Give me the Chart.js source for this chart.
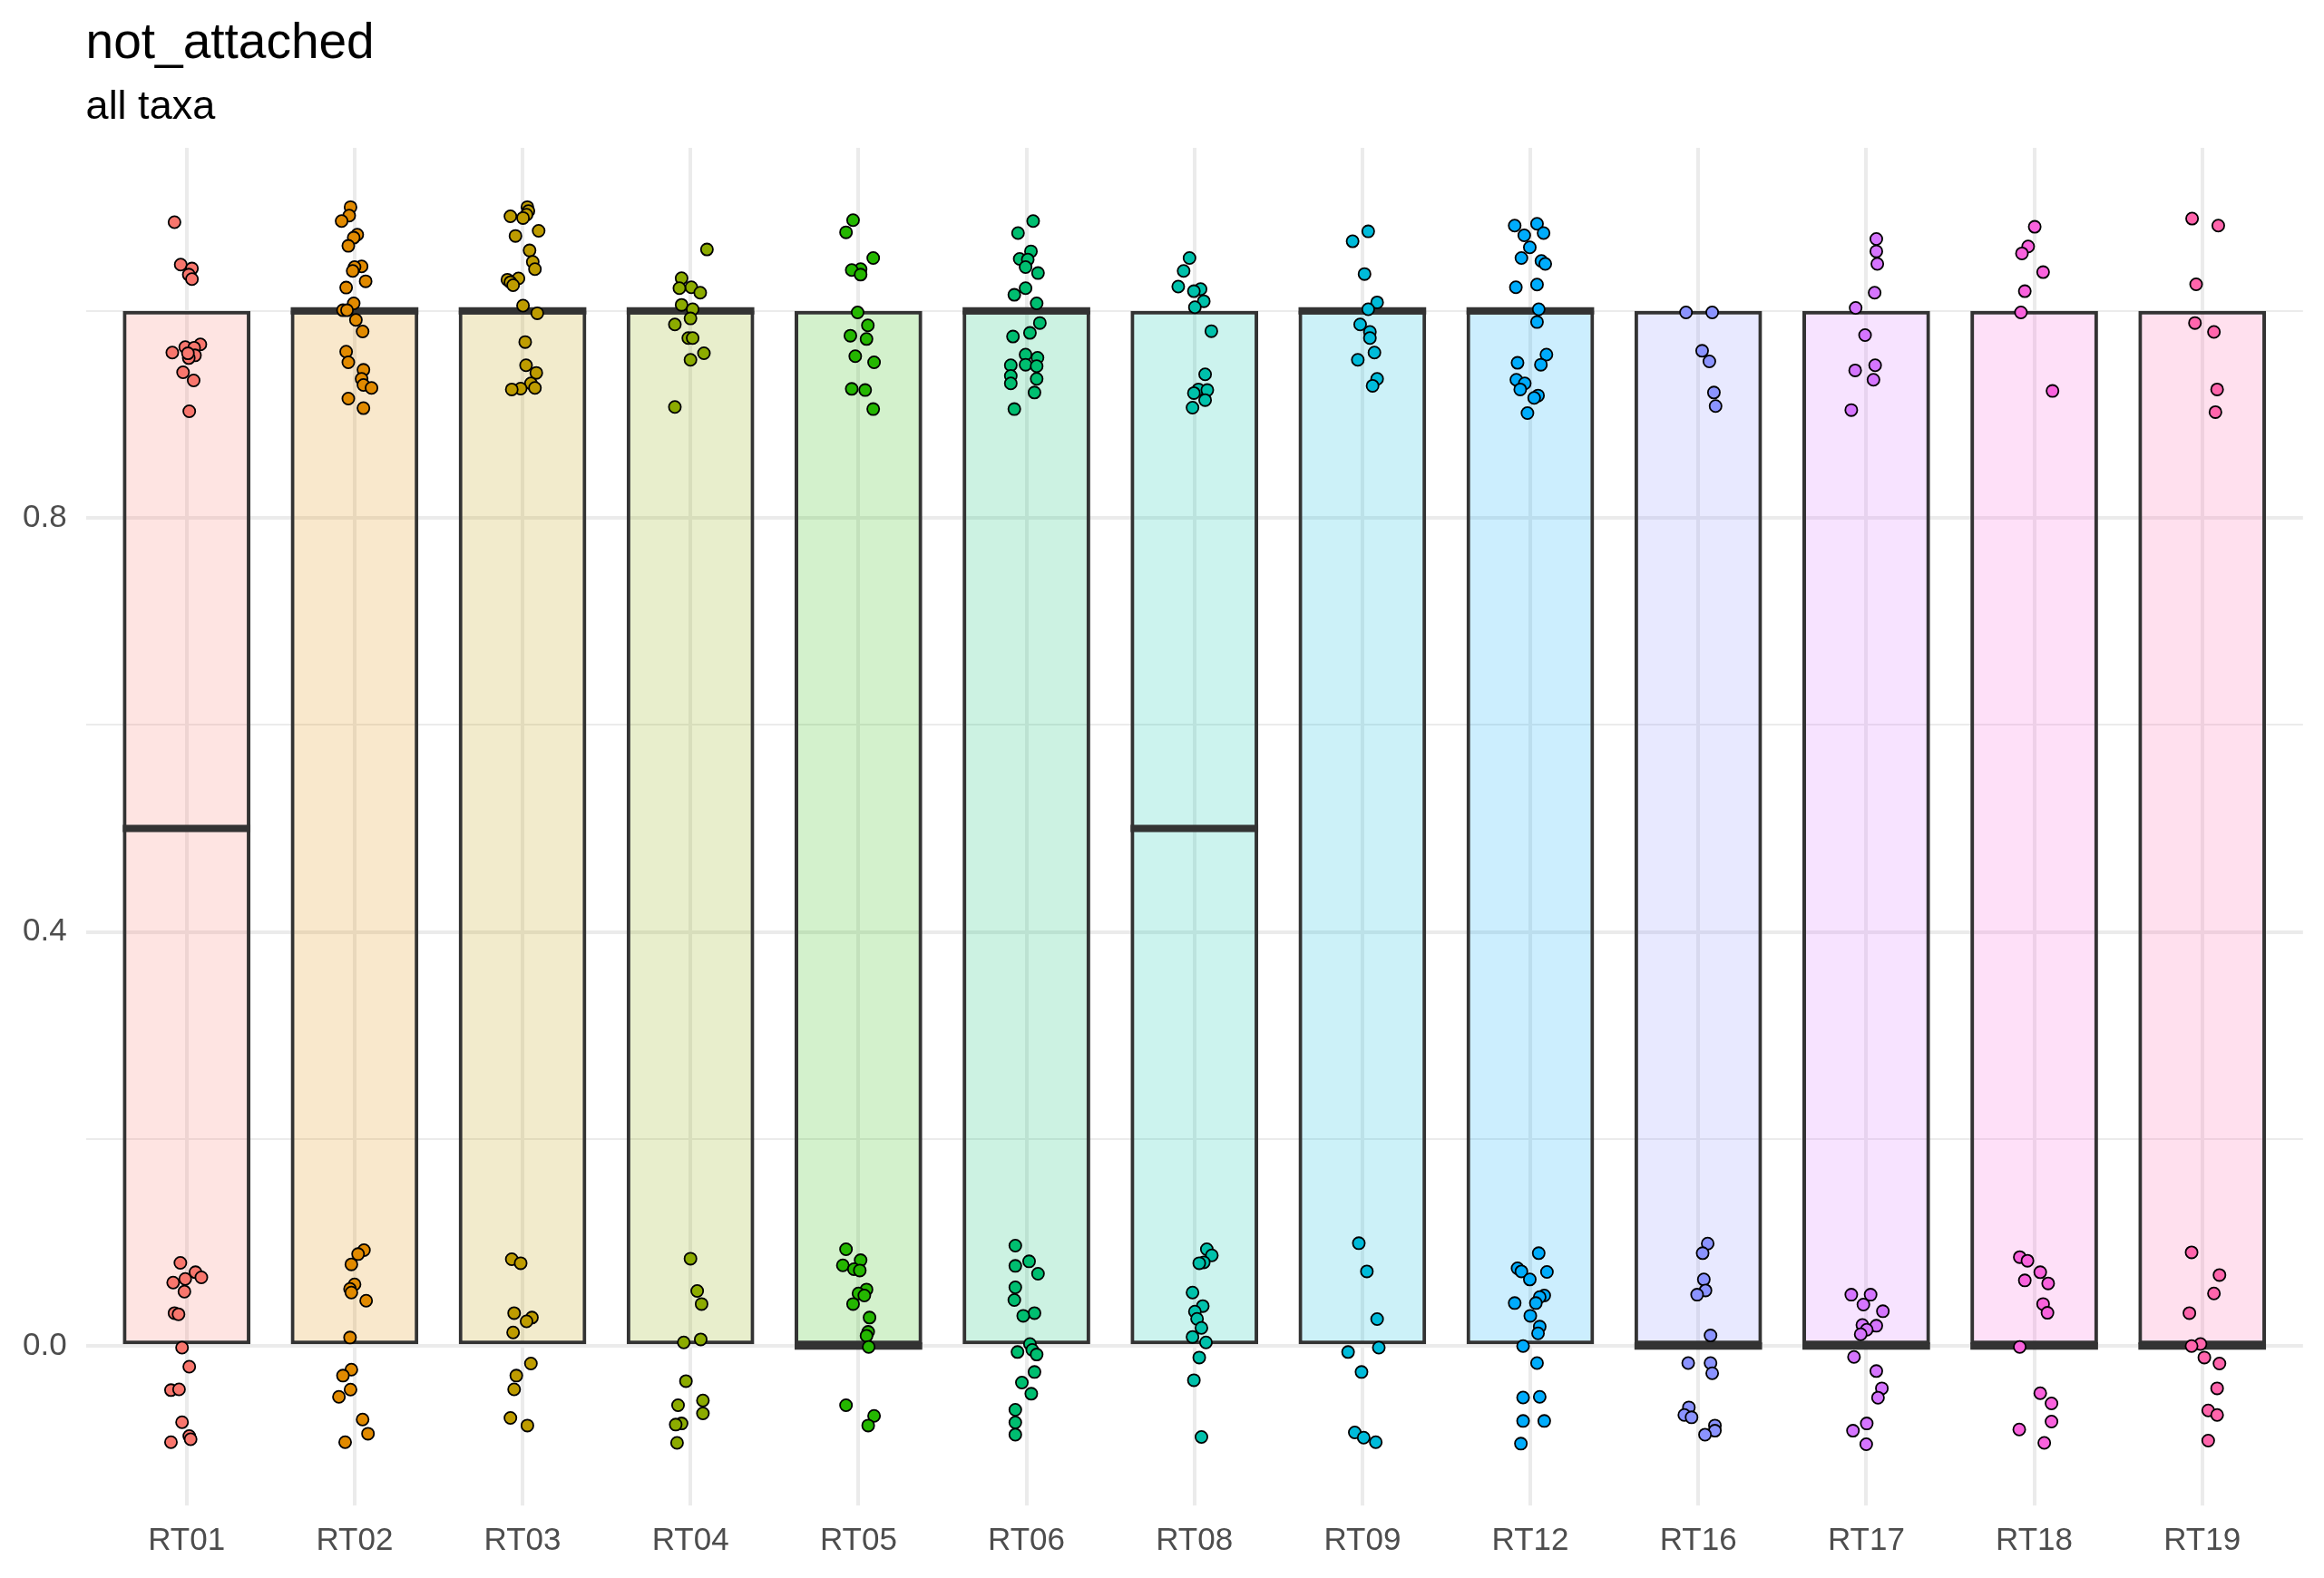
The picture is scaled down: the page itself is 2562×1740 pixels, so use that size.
<!DOCTYPE html>
<html><head><meta charset="utf-8">
<script src="https://cdn.jsdelivr.net/npm/chart.js@4.4.1/dist/chart.umd.min.js"></script>
<style>html,body{margin:0;padding:0;background:#fff;} canvas{display:block;}</style>
</head><body>
<canvas id="c" width="2562" height="1740"></canvas>
<script>
const titleText = 'not_attached';
const subtitleText = 'all taxa';
const categories = ['RT01','RT02','RT03','RT04','RT05','RT06','RT08','RT09','RT12','RT16','RT17','RT18','RT19'];
const boxLower = [0,0,0,0,0,0,0,0,0,0,0,0,0];
const boxUpper = [1,1,1,1,1,1,1,1,1,1,1,1,1];
const medians  = [0.5,1,1,1,0,1,0.5,1,1,0,0,0,0];
const yTickValues = [0,0.2,0.4,0.6,0.8,1.0];
const yTickLabels = ['0.0','','0.4','','0.8',''];
const colors = ['#F8766D','#E18A00','#BE9C00','#8CAB00','#24B700','#00BE70','#00C1AB','#00BBDA','#00ACFC','#8B93FF','#D575FE','#F962DD','#FF65AC'];

// jittered observations: [x offset from category, value]
const pointsRT01 = [[-0.072,1.0856],[-0.035,1.0447],[0.032,1.0409],[0.013,1.035],[0.032,1.0307],[0.082,0.9676],[-0.008,0.965],[0.045,0.9644],[-0.085,0.9597],[0.05,0.957],[0.013,0.9544],[0.008,0.959],[-0.021,0.9407],[0.042,0.9328],[0.016,0.903],
  [-0.037,0.0803],[0.053,0.0713],[0.088,0.0663],[-0.008,0.0648],[-0.08,0.0613],[-0.013,0.0526],[-0.072,0.0318],[-0.048,0.0307],[-0.027,-0.0015],[0.016,-0.0199],[-0.093,-0.0426],[-0.045,-0.0418],[-0.027,-0.0736],[-0.093,-0.0929],[0.016,-0.087],[0.024,-0.09]];
const pointsRT02 = [[-0.024,1.1002],[-0.032,1.092],[-0.077,1.0867],[0.016,1.0736],[-0.005,1.0707],[-0.037,1.0628],[0.042,1.0429],[0,1.0423],[-0.011,1.0386],[0.066,1.0286],[-0.05,1.0225],[-0.005,1.0073],[-0.069,1.0006],[-0.045,1.0006],[0.008,0.9912],[0.048,0.9801],[-0.05,0.9606],[-0.037,0.9503],[0.053,0.943],[0.042,0.9343],[0.053,0.9284],[0.101,0.9255],[-0.037,0.9153],[0.053,0.906],
  [0.056,0.0926],[0.021,0.0888],[-0.019,0.0789],[0,0.0596],[-0.027,0.0552],[-0.019,0.0517],[0.069,0.0438],[-0.027,0.0082],[-0.019,-0.0228],[-0.069,-0.0286],[-0.024,-0.0421],[-0.093,-0.0491],[0.048,-0.071],[0.08,-0.0847],[-0.056,-0.0929]];
const pointsRT03 = [[0.029,1.1002],[0.035,1.0964],[0.024,1.0929],[-0.072,1.0914],[0.003,1.0897],[0.096,1.0774],[-0.042,1.0724],[0.042,1.0584],[0.061,1.0473],[0.074,1.0403],[-0.024,1.0313],[-0.09,1.0301],[-0.072,1.0277],[-0.056,1.0248],[0.003,1.005],[0.088,0.9977],[0.016,0.9699],[0.021,0.9474],[0.082,0.9401],[0.05,0.9299],[0.074,0.9255],[-0.011,0.9249],[-0.064,0.9241],
  [-0.064,0.0838],[-0.011,0.08],[-0.05,0.0318],[0.056,0.0275],[0.024,0.0239],[-0.056,0.0131],[0.05,-0.0169],[-0.037,-0.0286],[-0.05,-0.0418],[-0.072,-0.0695],[0.029,-0.0768]];
const pointsRT04 = [[0.098,1.0593],[-0.053,1.0315],[0.005,1.0228],[-0.066,1.0219],[0.058,1.0175],[-0.053,1.0058],[0.013,1.0015],[0,0.9927],[-0.093,0.9869],[-0.013,0.9737],[0.013,0.9737],[0.08,0.9591],[0,0.9527],[-0.093,0.9071],
  [0,0.0844],[0.04,0.0532],[0.066,0.0406],[0.061,0.0064],[-0.04,0.0035],[-0.027,-0.0339],[0.074,-0.0526],[-0.074,-0.0572],[0.074,-0.0651],[-0.053,-0.0748],[-0.088,-0.0759],[-0.08,-0.0935]];
const pointsRT05 = [[-0.032,1.0876],[-0.074,1.0759],[0.088,1.0511],[0.013,1.0403],[-0.04,1.0394],[0.013,1.035],[-0.005,0.9985],[0.056,0.986],[-0.048,0.976],[0.048,0.9728],[-0.019,0.9562],[0.093,0.9503],[-0.04,0.9246],[0.04,0.9235],[0.088,0.9051],
  [-0.074,0.0935],[0.013,0.0829],[-0.093,0.078],[-0.027,0.0742],[0.008,0.073],[0.048,0.0546],[0,0.0508],[0.035,0.0488],[-0.032,0.0406],[0.066,0.0275],[0.058,0.0137],[0.048,0.0099],[0.061,-0.0009],[-0.074,-0.0572],[0.093,-0.0675],[0.058,-0.0768]];
const pointsRT06 = [[0.04,1.0867],[-0.05,1.0751],[0.027,1.0575],[-0.04,1.0502],[0.008,1.0496],[-0.005,1.0423],[0.069,1.0365],[-0.005,1.0219],[-0.072,1.0155],[0.061,1.0073],[0.08,0.9883],[0.021,0.9787],[-0.08,0.9752],[-0.005,0.9577],[0.066,0.9547],[-0.005,0.948],[-0.093,0.9474],[0.061,0.9466],[-0.093,0.9372],[0.061,0.9343],[-0.093,0.9299],[0.048,0.9211],[-0.072,0.9051],
  [-0.066,0.097],[0.016,0.0818],[-0.066,0.0774],[0.069,0.0698],[-0.066,0.0567],[-0.072,0.0444],[0.048,0.0318],[-0.019,0.0292],[0.021,0.002],[0.035,-0.0038],[-0.053,-0.0058],[0.061,-0.0082],[0.048,-0.0251],[-0.027,-0.0353],[0.029,-0.0461],[-0.066,-0.0616],[-0.066,-0.0739],[-0.066,-0.0856]];
const pointsRT08 = [[-0.029,1.0511],[-0.064,1.0386],[-0.096,1.0234],[0.037,1.021],[-0.003,1.019],[0.056,1.0093],[0.003,1.0035],[0.101,0.9804],[0.064,0.9387],[0.024,0.9241],[0.077,0.9235],[-0.003,0.9206],[0.064,0.9138],[-0.011,0.9065],
  [0.074,0.0935],[0.104,0.0876],[0.056,0.0809],[0.029,0.08],[-0.011,0.0517],[0.05,0.0386],[0.003,0.0333],[0.016,0.0263],[0.042,0.0175],[-0.011,0.0088],[0.069,0.0035],[0.029,-0.0111],[-0.003,-0.033],[0.042,-0.0879]];
const pointsRT09 = [[0.035,1.0768],[-0.058,1.0672],[0.013,1.0356],[0.088,1.0082],[0.035,1.0015],[-0.013,0.9869],[0.045,0.9796],[0.045,0.9737],[0.072,0.9597],[-0.027,0.9527],[0.088,0.9343],[0.061,0.9276],
  [-0.021,0.0993],[0.027,0.0721],[0.088,0.026],[0.098,-0.0015],[-0.085,-0.0058],[-0.005,-0.0251],[-0.045,-0.0835],[0.008,-0.0885],[0.08,-0.0929]];
const pointsRT12 = [[0.04,1.0841],[-0.093,1.0824],[0.079,1.0751],[-0.036,1.073],[-0.003,1.0613],[-0.053,1.0511],[0.066,1.0482],[0.089,1.0453],[0.04,1.0254],[-0.086,1.0228],[0.05,1.0015],[0.04,0.9892],[0.096,0.9577],[-0.076,0.9498],[0.063,0.948],[-0.083,0.9334],[-0.033,0.9299],[-0.06,0.9241],[0.046,0.9182],[0.023,0.9159],[-0.017,0.9013],
  [0.05,0.0897],[-0.076,0.0751],[-0.053,0.0721],[0.099,0.0716],[-0.003,0.0643],[0.083,0.0488],[0.056,0.0473],[-0.093,0.0415],[0.033,0.0415],[0,0.0292],[0.056,0.0187],[0.046,0.0123],[-0.043,0],[0.04,-0.0164],[0.056,-0.0491],[-0.043,-0.0497],[-0.043,-0.0724],[0.083,-0.0724],[-0.056,-0.0943]];
const pointsRT16 = [[-0.073,0.9985],[0.083,0.9985],[0.023,0.9614],[0.066,0.9512],[0.093,0.9211],[0.103,0.908],
  [0.056,0.099],[0.026,0.0897],[0.033,0.0643],[0.043,0.0537],[-0.007,0.0496],[0.073,0.0102],[-0.06,-0.0164],[0.073,-0.0164],[0.083,-0.0263],[-0.056,-0.0593],[-0.083,-0.0666],[-0.04,-0.0689],[0.099,-0.0768],[0.099,-0.0818],[0.04,-0.0856]];
const pointsRT17 = [[0.06,1.0695],[0.06,1.0575],[0.066,1.0453],[0.05,1.0175],[-0.063,1.0029],[-0.007,0.9766],[0.053,0.9474],[-0.066,0.9425],[0.043,0.9334],[-0.089,0.9042],
  [-0.089,0.0496],[0.026,0.0496],[-0.017,0.04],[0.099,0.0336],[-0.023,0.0204],[0.06,0.0196],[0.003,0.0158],[-0.033,0.0114],[-0.073,-0.0105],[0.06,-0.0242],[0.093,-0.0409],[0.07,-0.0499],[0.003,-0.0748],[-0.079,-0.0818],[0,-0.0949]];
const pointsRT18 = [[0.003,1.0812],[-0.036,1.0622],[-0.073,1.0555],[0.053,1.0374],[-0.056,1.019],[-0.079,0.9985],[0.109,0.9226],
  [-0.086,0.0859],[-0.04,0.0824],[0.036,0.0713],[-0.056,0.0634],[0.083,0.0605],[0.053,0.0406],[0.079,0.0321],[-0.086,-0.0009],[0.036,-0.0456],[0.103,-0.0555],[0.103,-0.073],[-0.089,-0.0806],[0.06,-0.0935]];
const pointsRT19 = [[-0.06,1.0891],[0.096,1.0824],[-0.036,1.0257],[-0.043,0.9883],[0.07,0.9796],[0.089,0.9241],[0.079,0.9022],
  [-0.063,0.0905],[0.103,0.0686],[0.07,0.0508],[-0.076,0.0318],[-0.01,0.002],[-0.063,0],[0.013,-0.0111],[0.103,-0.0169],[0.089,-0.0409],[0.036,-0.0622],[0.089,-0.0666],[0.036,-0.0914]];
const jitterPoints = [pointsRT01,pointsRT02,pointsRT03,pointsRT04,pointsRT05,pointsRT06,pointsRT08,pointsRT09,pointsRT12,pointsRT16,pointsRT17,pointsRT18,pointsRT19];

function withAlpha(hex, a) {
  const r = parseInt(hex.slice(1,3),16), g = parseInt(hex.slice(3,5),16), b = parseInt(hex.slice(5,7),16);
  return `rgba(${r},${g},${b},${a})`;
}

Chart.defaults.font.family = '"Liberation Sans", Arial, sans-serif';

const datasets = [{
  type: 'bar',
  data: categories.map((c, i) => ({x: i + 1, y: [boxLower[i], boxUpper[i]]})),
  backgroundColor: colors.map(c => withAlpha(c, 0.2)),
  borderColor: '#333333',
  borderWidth: 4,
  borderSkipped: false,
  barPercentage: 0.76,
  categoryPercentage: 1,
  order: 2
}];
jitterPoints.forEach((pts, i) => {
  datasets.push({
    type: 'scatter',
    data: pts.map(p => ({x: i + 1 + p[0], y: p[1]})),
    backgroundColor: colors[i],
    borderColor: '#000000',
    borderWidth: 1.8,
    pointRadius: 6.6,
    pointHoverRadius: 6.6,
    order: 1
  });
});

const medianPlugin = {
  id: 'medians',
  afterDatasetDraw(chart, args) {
    if (args.meta.type !== 'bar') return;
    const ctx = chart.ctx, yScale = chart.scales.y;
    ctx.save();
    ctx.strokeStyle = '#333333';
    ctx.lineWidth = 8;
    ctx.lineCap = 'butt';
    args.meta.data.forEach((el, i) => {
      const y = yScale.getPixelForValue(medians[i]);
      ctx.beginPath();
      ctx.moveTo(el.x - el.width / 2, y);
      ctx.lineTo(el.x + el.width / 2, y);
      ctx.stroke();
    });
    ctx.restore();
  }
};

const titlePlugin = {
  id: 'titles',
  afterDraw(chart) {
    const ctx = chart.ctx, left = chart.chartArea.left;
    ctx.save();
    ctx.fillStyle = '#000000';
    ctx.textAlign = 'left';
    ctx.textBaseline = 'alphabetic';
    ctx.font = '55px "Liberation Sans", Arial, sans-serif';
    ctx.fillText(titleText, left, 64);
    ctx.font = '45px "Liberation Sans", Arial, sans-serif';
    ctx.fillText(subtitleText, left, 131);
    ctx.restore();
  }
};

new Chart(document.getElementById('c'), {
  type: 'bar',
  data: { datasets },
  plugins: [medianPlugin, titlePlugin],
  options: {
    responsive: false,
    animation: false,
    events: [],
    devicePixelRatio: 1,
    layout: { padding: { left: 0, right: 23.2, top: 163, bottom: 0 } },
    plugins: { legend: { display: false }, tooltip: { enabled: false }, title: { display: false } },
    scales: {
      x: {
        type: 'linear',
        offset: false,
        min: 0.4, max: 13.6,
        afterBuildTicks: axis => { axis.ticks = categories.map((c, i) => ({value: i + 1})); },
        afterFit: scale => { scale.height = 80; },
        ticks: {
          autoSkip: false, maxRotation: 0, padding: 18,
          color: '#4D4D4D', font: { size: 35 },
          callback: v => categories[Math.round(v) - 1]
        },
        grid: { color: '#EBEBEB', lineWidth: 4, drawTicks: false, offset: false },
        border: { display: false }
      },
      y: {
        type: 'linear',
        min: -0.154, max: 1.1575,
        afterBuildTicks: axis => { axis.ticks = yTickValues.map(v => ({value: v})); },
        afterFit: scale => { scale.width = 94.6; },
        ticks: {
          autoSkip: false, padding: 21,
          color: '#4D4D4D', font: { size: 35 },
          callback: (v, i) => yTickLabels[i]
        },
        grid: {
          color: '#EBEBEB',
          lineWidth: ctx => (yTickLabels[ctx.index] ? 4 : 2),
          drawTicks: false
        },
        border: { display: false }
      }
    }
  }
});
</script>
</body></html>
